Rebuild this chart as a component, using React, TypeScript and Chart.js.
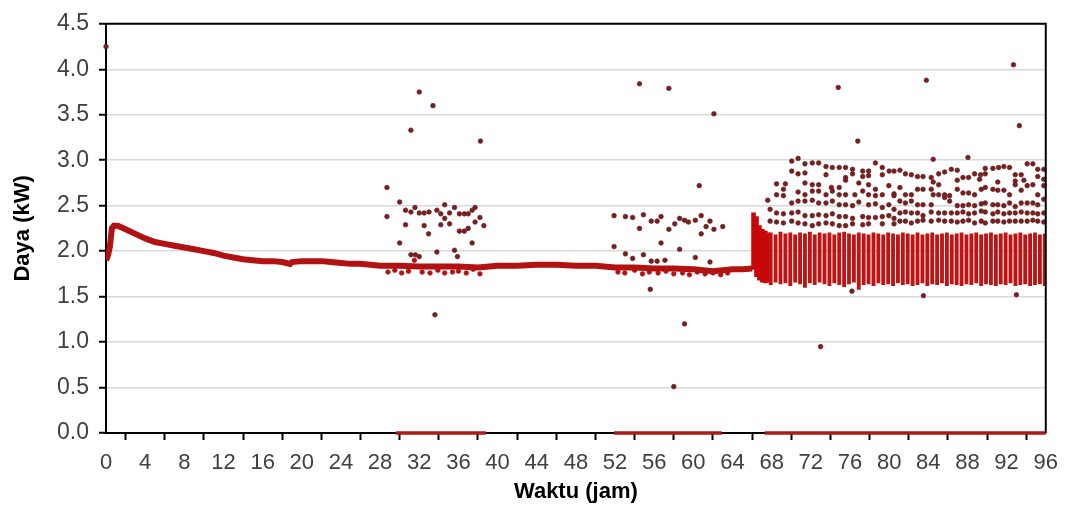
import React, { useEffect, useRef } from "react";
import { Chart, registerables } from "chart.js";

Chart.register(...registerables);

// Trend line (hours, kW)
const trendX = [0, 0.2, 0.4, 0.6, 0.8, 1.2, 2, 3, 4, 5, 6, 7, 8, 9, 10, 11, 12, 13, 14, 15, 16, 17, 18, 18.8, 19, 20, 21, 22, 23, 24, 25, 26, 27, 28, 30, 32, 34, 36, 38, 40, 42, 44, 46, 48, 50, 52, 54, 56, 58, 60, 61, 62, 63, 64, 65, 66];
const trendY = [1.9, 1.95, 2.05, 2.25, 2.28, 2.28, 2.24, 2.19, 2.14, 2.1, 2.08, 2.06, 2.04, 2.02, 2.0, 1.98, 1.95, 1.93, 1.91, 1.9, 1.89, 1.89, 1.88, 1.86, 1.88, 1.89, 1.89, 1.89, 1.88, 1.87, 1.86, 1.86, 1.85, 1.84, 1.84, 1.83, 1.83, 1.83, 1.82, 1.84, 1.84, 1.85, 1.85, 1.84, 1.84, 1.82, 1.82, 1.81, 1.81, 1.80, 1.79, 1.78, 1.79, 1.80, 1.80, 1.81];

// Small jitter dots just around the trend line
const noiseX = [28.8, 29.5, 30.2, 30.9, 31.5, 32.3, 33.1, 33.9, 34.6, 35.4, 36.0, 36.8, 37.5, 38.2, 52.3, 53.0, 54.0, 54.8, 55.5, 56.4, 57.2, 58.0, 58.9, 59.6, 60.4, 61.2, 62.0, 62.8, 63.5];
const noiseY = [1.77, 1.79, 1.76, 1.78, 1.90, 1.77, 1.76, 1.79, 1.76, 1.77, 1.78, 1.76, 1.80, 1.75, 1.77, 1.76, 1.79, 1.75, 1.77, 1.76, 1.78, 1.75, 1.76, 1.74, 1.77, 1.75, 1.76, 1.74, 1.76];

// Sparse dots, 28-39 h
const dotsA = [[28.7,2.70],[28.7,2.38],[31.15,3.33],[32.0,3.75],[33.4,3.60],[33.6,1.30],[38.25,3.21],[30.0,2.54],[30.0,2.09],[30.6,2.45],[30.6,2.29],[31.15,2.43],[31.56,2.48],[32.0,2.42],[32.5,2.28],[32.5,2.42],[32.95,2.19],[33.0,2.43],[33.8,2.45],[33.8,1.99],[34.2,2.41],[34.2,2.29],[34.6,2.51],[34.6,2.36],[35.1,2.42],[35.1,2.30],[35.6,2.48],[35.6,2.01],[35.9,1.94],[36.1,2.41],[36.1,2.22],[36.6,2.41],[36.6,2.22],[37.0,2.25],[37.0,2.41],[37.4,2.09],[37.4,2.45],[37.7,2.48],[37.7,2.32],[38.2,2.37],[38.6,2.28],[31.15,1.96],[31.6,1.96],[32.0,1.94]];
// Sparse dots, 52-64 h
const dotsB = [[54.5,3.84],[57.5,3.79],[62.1,3.51],[60.6,2.72],[55.6,1.58],[59.1,1.20],[58.0,0.51],[51.9,2.39],[51.9,2.05],[53.06,2.38],[53.06,1.97],[53.8,2.37],[53.8,1.92],[54.5,2.25],[54.9,2.40],[54.9,1.96],[55.7,2.33],[55.7,1.89],[56.3,2.33],[56.3,1.89],[56.7,2.09],[56.7,2.38],[57.1,1.90],[57.5,2.24],[58.1,2.30],[58.6,2.36],[58.6,2.02],[59.1,2.34],[59.5,2.32],[60.2,2.34],[60.2,1.93],[60.8,2.39],[60.8,2.19],[61.3,2.27],[61.7,2.33],[61.7,1.88],[62.1,2.24],[63.0,2.27]];
// Isolated outliers
const dotsC = [[0,4.25],[74.8,3.80],[76.8,3.21],[83.8,3.88],[92.7,4.05],[93.3,3.38],[73.0,0.95],[83.5,1.51],[93.0,1.52],[84.5,3.01],[88.05,3.03],[76.2,1.56]];
// Upper scatter 67-81 h
const dotsD = [[70.05,2.99],[70.7,3.02],[71.4,2.96],[72.15,2.97],[72.8,2.97],[73.55,2.93],[74.2,2.92],[74.9,2.92],[75.55,2.92],[76.26,2.90],[77.3,2.88],[77.9,2.88],[78.6,2.97],[79.3,2.92],[80.0,2.88],[80.5,2.88],
[70.05,2.88],[70.7,2.85],[71.4,2.86],[73.55,2.84],[75.55,2.81],[76.26,2.85],[77.3,2.82],[77.9,2.83],[79.3,2.84],
[69.4,2.74],[71.4,2.75],[72.15,2.73],[72.8,2.73],[74.1,2.70],[74.9,2.70],[75.55,2.78],[76.9,2.75],[77.9,2.73],[78.6,2.68],[79.97,2.72],[80.5,2.63],
[68.5,2.74],[69.2,2.68],[68.5,2.62],[69.2,2.61],[70.7,2.65],[71.4,2.62],[72.15,2.66],[72.8,2.66],[73.55,2.62],[74.2,2.66],[74.9,2.62],[75.55,2.62],[76.5,2.62],[77.3,2.66],[77.9,2.62],[78.6,2.61],[79.3,2.62],[80.5,2.61],
[67.6,2.56],[70.05,2.53],[70.7,2.55],[71.4,2.55],[72.15,2.56],[72.8,2.53],[73.55,2.53],[74.2,2.55],[74.9,2.51],[75.55,2.51],[76.26,2.50],[76.9,2.54],[77.9,2.51],[78.6,2.52],[79.3,2.48],[79.97,2.51],[80.5,2.46],
[67.84,2.46],[68.5,2.42],[69.2,2.41],[70.05,2.42],[70.7,2.43],[71.4,2.39],[72.15,2.39],[72.8,2.40],[73.55,2.39],[74.2,2.41],[74.9,2.38],[75.55,2.38],[76.26,2.36],[77.3,2.38],[77.9,2.37],[78.6,2.37],[79.3,2.38],[79.97,2.39],[80.5,2.36],
[67.84,2.33],[68.5,2.32],[69.2,2.31],[70.05,2.33],[70.7,2.31],[71.4,2.30],[72.15,2.28],[72.8,2.30],[73.55,2.31],[74.2,2.30],[74.9,2.28],[75.55,2.28],[76.26,2.30],[77.3,2.29],[77.9,2.30],[79.3,2.30],[80.5,2.30]];
// Upper scatter 81-96 h
const dotsE = [[81.1,2.89],[81.66,2.85],[82.27,2.84],[82.9,2.82],[83.46,2.82],[84.3,2.81],[85.06,2.85],[85.67,2.87],[86.35,2.90],[86.96,2.89],[87.54,2.81],[88.12,2.81],[88.73,2.85],[89.34,2.84],[89.82,2.91],[90.6,2.91],[91.18,2.92],[91.72,2.93],[92.3,2.92],[92.88,2.84],[93.49,2.84],[94.1,2.96],[94.68,2.96],[95.18,2.90],[95.8,2.90],
[84.5,2.76],[85.06,2.73],[86.96,2.78],[89.24,2.79],[89.82,2.85],[91.1,2.76],[92.88,2.77],[93.76,2.78],[95.18,2.82],[95.8,2.79],
[81.1,2.70],[81.66,2.62],[82.27,2.62],[82.9,2.68],[83.46,2.68],[84.3,2.68],[84.5,2.62],[85.06,2.62],[85.67,2.62],[86.18,2.61],[86.96,2.68],[87.54,2.64],[88.12,2.64],[88.73,2.62],[89.41,2.68],[89.82,2.70],[90.6,2.68],[91.1,2.67],[91.72,2.67],[92.3,2.62],[92.88,2.73],[93.49,2.67],[94.1,2.72],[94.68,2.73],[95.18,2.62],[95.8,2.72],
[81.1,2.55],[81.66,2.53],[82.27,2.55],[82.9,2.51],[83.46,2.51],[84.3,2.51],[85.67,2.59],[86.18,2.55],[86.96,2.50],[87.54,2.50],[88.12,2.51],[88.73,2.50],[89.41,2.52],[89.82,2.53],[90.6,2.51],[91.1,2.51],[91.72,2.50],[92.3,2.53],[92.88,2.49],[93.49,2.53],[94.1,2.53],[94.68,2.53],[95.18,2.51],[95.8,2.57],
[81.1,2.42],[81.66,2.43],[82.27,2.42],[82.9,2.42],[83.46,2.39],[84.3,2.43],[85.06,2.42],[85.67,2.42],[86.35,2.42],[86.96,2.42],[87.54,2.43],[88.12,2.41],[88.73,2.42],[89.41,2.44],[89.82,2.43],[90.6,2.41],[91.1,2.43],[91.72,2.41],[92.3,2.42],[92.88,2.42],[93.49,2.43],[94.1,2.42],[94.68,2.42],[95.18,2.41],[95.8,2.42],
[81.1,2.33],[81.66,2.33],[82.27,2.31],[82.9,2.33],[83.46,2.34],[84.3,2.33],[85.06,2.34],[85.67,2.33],[86.35,2.33],[86.96,2.32],[87.54,2.33],[88.12,2.34],[88.73,2.31],[89.41,2.33],[89.82,2.31],[90.6,2.33],[91.1,2.33],[91.72,2.32],[92.3,2.33],[92.88,2.33],[93.49,2.33],[94.1,2.33],[94.68,2.34],[95.18,2.33],[95.8,2.32]];

// Dense oscillating band after 67 h (vertical stripes: low/high per column)
const bandX = [67.9, 68.4, 68.9, 69.4, 69.9, 70.4, 70.9, 71.4, 71.9, 72.4, 72.9, 73.4, 73.9, 74.4, 74.9, 75.4, 75.9, 76.4, 76.9, 77.4, 77.9, 78.4, 78.9, 79.4, 79.9, 80.4, 80.9, 81.4, 81.9, 82.4, 82.9, 83.4, 83.9, 84.4, 84.9, 85.4, 85.9, 86.4, 86.9, 87.4, 87.9, 88.4, 88.9, 89.4, 89.9, 90.4, 90.9, 91.4, 91.9, 92.4, 92.9, 93.4, 93.9, 94.4, 94.9, 95.4, 95.9];
const bandLow = [1.63, 1.66, 1.64, 1.65, 1.62, 1.66, 1.64, 1.60, 1.65, 1.63, 1.66, 1.64, 1.62, 1.65, 1.63, 1.61, 1.64, 1.66, 1.58, 1.63, 1.64, 1.62, 1.65, 1.63, 1.64, 1.62, 1.65, 1.63, 1.64, 1.62, 1.63, 1.65, 1.62, 1.64, 1.63, 1.65, 1.62, 1.64, 1.63, 1.62, 1.64, 1.63, 1.65, 1.62, 1.64, 1.63, 1.62, 1.64, 1.63, 1.65, 1.62, 1.63, 1.64, 1.62, 1.63, 1.64, 1.62];
const bandHigh = [2.2, 2.18, 2.21, 2.19, 2.2, 2.18, 2.2, 2.19, 2.21, 2.18, 2.2, 2.19, 2.2, 2.18, 2.2, 2.21, 2.19, 2.18, 2.2, 2.19, 2.18, 2.2, 2.19, 2.18, 2.2, 2.19, 2.18, 2.2, 2.19, 2.18, 2.2, 2.18, 2.19, 2.2, 2.18, 2.19, 2.2, 2.18, 2.19, 2.2, 2.18, 2.19, 2.2, 2.18, 2.19, 2.2, 2.18, 2.19, 2.2, 2.18, 2.19, 2.2, 2.18, 2.19, 2.2, 2.18, 2.19];

// Transition burst at ~66-68 h
const burstX = [66.15, 66.45, 66.75, 67.05, 67.35, 67.6];
const burstLow = [1.80, 1.72, 1.68, 1.66, 1.65, 1.66];
const burstHigh = [2.42, 2.38, 2.28, 2.24, 2.22, 2.2];

// Periods with zero power
const zeroStart = [29.6, 51.9, 67.3];
const zeroEnd = [38.8, 62.9, 96];

const xTicks = [0, 4, 8, 12, 16, 20, 24, 28, 32, 36, 40, 44, 48, 52, 56, 60, 64, 68, 72, 76, 80, 84, 88, 92, 96];
const yTicks = [0, 0.5, 1, 1.5, 2, 2.5, 3, 3.5, 4, 4.5];

const RED = "#b31212";
const FONT = "'Liberation Sans', Arial, sans-serif";

const framePlugin = {
  id: "frame",
  afterDraw(chart: any) {
    const { ctx, chartArea: a } = chart;
    ctx.save();
    ctx.strokeStyle = "#000";
    ctx.lineWidth = 2;
    ctx.beginPath();
    ctx.moveTo(a.left, a.top);
    ctx.lineTo(a.right, a.top);
    ctx.lineTo(a.right, a.bottom);
    ctx.stroke();
    ctx.restore();
  },
};

export default function App() {
  const ref = useRef<HTMLCanvasElement>(null);
  useEffect(() => {
    document.body.style.margin = "0";
    const toPts = (arr: number[][]) => arr.map(([x, y]) => ({ x, y }));
    const dotStyle = {
      type: "scatter" as const,
      pointRadius: 2.3,
      pointBackgroundColor: "#8a1818",
      pointBorderColor: "#4a2a2a",
      pointBorderWidth: 0.7,
      showLine: false,
    };
    const zeroSets = zeroStart.map((s, i) => ({
      type: "line" as const,
      data: [{ x: s, y: 0 }, { x: zeroEnd[i], y: 0 }],
      borderColor: "#b01818",
      borderWidth: 3.5,
      pointRadius: 0,
      clip: false as any,
      order: 10,
    }));
    const chart = new Chart(ref.current!, {
      type: "scatter",
      data: {
        datasets: [
          { ...dotStyle, data: toPts(dotsA), order: 1 },
          { ...dotStyle, data: toPts(dotsB), order: 1 },
          { ...dotStyle, data: toPts(dotsC), order: 1, clip: false as any },
          { ...dotStyle, data: toPts(dotsD), order: 1 },
          { ...dotStyle, data: toPts(dotsE), order: 1 },
          {
            ...dotStyle,
            pointBackgroundColor: RED,
            pointBorderColor: RED,
            data: noiseX.map((x, i) => ({ x, y: noiseY[i] })),
            order: 2,
          },
          {
            type: "bar" as any,
            data: bandX.map((x, i) => ({ x, y: [bandLow[i], bandHigh[i]] })) as any,
            backgroundColor: "#c01414",
            barThickness: 3.2,
            grouped: false,
            order: 3,
          } as any,
          {
            type: "bar" as any,
            data: burstX.map((x, i) => ({ x, y: [burstLow[i], burstHigh[i]] })) as any,
            backgroundColor: "#c80808",
            barThickness: 4,
            grouped: false,
            order: 3,
          } as any,
          {
            type: "line" as const,
            data: trendX.map((x, i) => ({ x, y: trendY[i] })),
            borderColor: RED,
            borderWidth: 6,
            pointRadius: 0,
            tension: 0,
            order: 4,
          },
          ...zeroSets,
        ] as any,
      },
      options: {
        animation: false,
        responsive: true,
        maintainAspectRatio: false,
        devicePixelRatio: 1,
        layout: { padding: { left: 0, top: 22, right: 20, bottom: 0 } },
        plugins: { legend: { display: false }, tooltip: { enabled: false } },
        scales: {
          x: {
            type: "linear",
            min: 0,
            max: 96,
            offset: false,
            afterBuildTicks: (s: any) => {
              s.ticks = xTicks.map((v) => ({ value: v }));
            },
            afterFit: (s: any) => {
              s.height = 72;
            },
            ticks: {
              font: { family: FONT, size: 22 },
              color: "#404040",
              padding: 10,
              maxRotation: 0,
              autoSkip: false,
            },
            grid: {
              drawOnChartArea: false,
              drawTicks: true,
              tickLength: 7,
              tickColor: "#000",
              tickWidth: 2,
            },
            border: { color: "#000", width: 2 },
            title: {
              display: true,
              text: "Waktu (jam)",
              font: { family: FONT, size: 22, weight: "bold" },
              color: "#000",
              padding: { top: 0, bottom: 0 },
            },
          },
          y: {
            type: "linear",
            min: 0,
            max: 4.5,
            afterBuildTicks: (s: any) => {
              s.ticks = yTicks.map((v) => ({ value: v }));
            },
            afterFit: (s: any) => {
              s.width = 106;
            },
            ticks: {
              font: { family: FONT, size: 23 },
              color: "#404040",
              padding: 10,
              callback: (v: any) => Number(v).toFixed(1),
            },
            grid: {
              color: "#d9d9d9",
              lineWidth: 1.5,
              drawTicks: true,
              tickLength: 7,
              tickColor: "#000",
              tickWidth: 2,
            },
            border: { color: "#000", width: 2 },
            title: {
              display: true,
              text: "Daya (kW)",
              font: { family: FONT, size: 22, weight: "bold" },
              color: "#000",
              padding: { top: 10, bottom: 0 },
            },
          },
        },
      } as any,
      plugins: [framePlugin],
    });
    return () => chart.destroy();
  }, []);
  return (
    <div style={{ width: 1068, height: 505, position: "relative", background: "#fff" }}>
      <canvas ref={ref} />
    </div>
  );
}
